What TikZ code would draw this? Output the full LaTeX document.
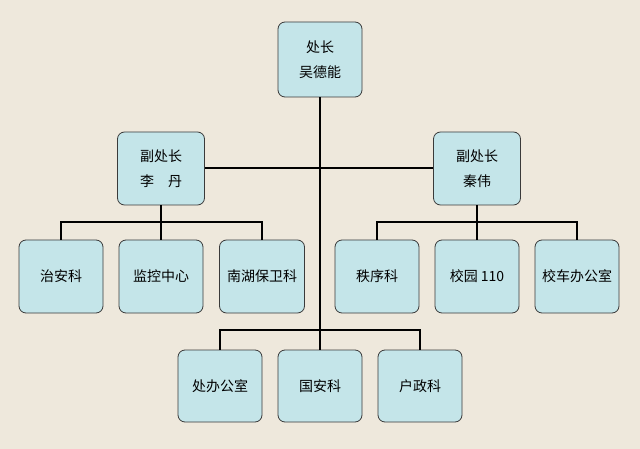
\documentclass[tikz,border=0pt]{standalone}
\usepackage{fontspec}
\setmainfont{Noto Sans CJK SC}
\definecolor{bg}{HTML}{EEE8DC}
\definecolor{boxfill}{HTML}{C4E5E9}
\definecolor{boxline}{HTML}{3A3A3A}
\begin{document}
\begin{tikzpicture}[x=1pt,y=-1pt,
  ob/.style={draw=boxline,fill=boxfill,line width=0.8pt,rounded corners=7pt,minimum width=84pt,minimum height=73pt,align=center,font=\fontsize{14}{25}\selectfont},
  ln/.style={draw=black,line width=1.5pt}]
\fill[bg] (0,0) rectangle (640,449);
\useasboundingbox (0,0) rectangle (640,449);
\node[ob,minimum height=75pt] (top) at (320,59.5) {处长\\吴德能};
\node[ob,minimum width=87pt] (dl) at (161,168.5) {副处长\\李\quad 丹};
\node[ob,minimum width=87pt] (dr) at (477,168.5) {副处长\\秦伟};
\node[ob] (a1) at (61,276.5) {治安科};
\node[ob] (a2) at (161,276.5) {监控中心};
\node[ob,minimum width=85pt] (a3) at (262,276.5) {南湖保卫科};
\node[ob] (b1) at (377,276.5) {秩序科};
\node[ob] (b2) at (477,276.5) {校园 110};
\node[ob] (b3) at (577,276.5) {校车办公室};
\node[ob,minimum height=72pt] (c1) at (220,386) {处办公室};
\node[ob,minimum height=72pt] (c2) at (320,386) {国安科};
\node[ob,minimum height=72pt] (c3) at (420,386) {户政科};
\coordinate (m) at (320,330);
\draw[ln] (top.south) -- (c2.north);
\draw[ln] ([yshift=0.5pt]dl.east) -- ([yshift=0.5pt]dr.west);
\draw[ln] (dl.south) -- (161,222);
\draw[ln] (dr.south) -- (477,222);
\draw[ln] (a1.north) |- (161,222) -| (a3.north);
\draw[ln] (a2.north) -- (161,222);
\draw[ln] (b1.north) |- (477,222) -| (b3.north);
\draw[ln] (b2.north) -- (477,222);
\draw[ln] (c1.north) |- (m) -| (c3.north);
\end{tikzpicture}
\end{document}
